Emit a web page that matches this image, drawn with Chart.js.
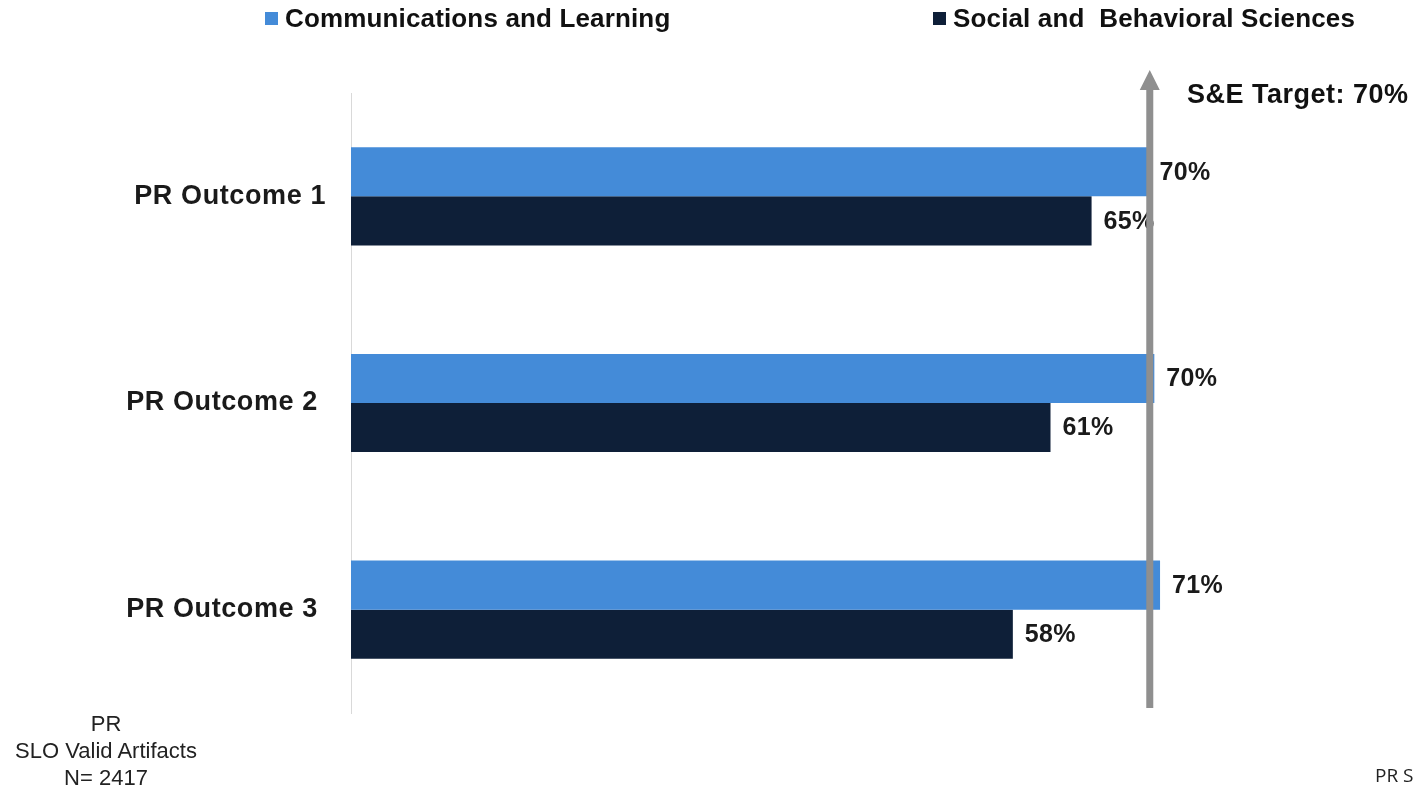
<!DOCTYPE html>
<html>
<head>
<meta charset="utf-8">
<script src="https://cdn.jsdelivr.net/npm/chart.js@4"></script>
<style>
  body { margin: 0; background: #fff; font-family: "Liberation Sans", Arial, sans-serif; }
  #wrap { position: relative; width: 1417px; height: 788px; }
  .leg { position: absolute; top: 3px; font-weight: bold; font-size: 26px; color: #111; white-space: pre; line-height: 30px; letter-spacing: 0.15px; }
  .leg span { display: inline-block; width: 13px; height: 13px; margin-right: 7px; vertical-align: 2px; }
  #note { position: absolute; left: 6px; top: 710px; width: 200px; text-align: center; font-size: 22px; line-height: 27px; color: #222; }
  #prs { position: absolute; left: 1375px; top: 762px; font-size: 19px; color: #222; font-family: "Open Sans", sans-serif; }
</style>
</head>
<body>
<div id="wrap">
  <canvas id="myChart"></canvas>
  <div class="leg" style="left:265px"><span style="background:#448BD8"></span>Communications and Learning</div>
  <div class="leg" style="left:933px"><span style="background:#0E1F38"></span>Social and  Behavioral Sciences</div>
  <div id="note">PR<br>SLO Valid Artifacts<br>N= 2417</div>
  <div id="prs">PR S</div>
</div>
<script>
const categories = ['PR Outcome 1', 'PR Outcome 2 ', 'PR Outcome 3 '];
const commLearning = [69.8, 70.4, 70.9];
const socialBehavioral = [64.9, 61.3, 58.0];
const targetValue = 70;
const targetLabel = 'S&E Target: 70%';

// a little extra spacing for the category labels
const labelSpacing = {
  id: 'labelSpacing',
  beforeDraw(chart) {
    chart.ctx.letterSpacing = '0.6px';
  }
};

// value labels at bar ends
const valueLabels = {
  id: 'valueLabels',
  afterDatasetsDraw(chart) {
    const ctx = chart.ctx;
    ctx.save();
    ctx.letterSpacing = '0.3px';
    ctx.font = 'bold 25px "Liberation Sans", Arial, sans-serif';
    ctx.fillStyle = '#1a1a1a';
    ctx.textAlign = 'left';
    ctx.textBaseline = 'middle';
    chart.data.datasets.forEach((ds, i) => {
      chart.getDatasetMeta(i).data.forEach((bar, j) => {
        ctx.fillText(Math.round(ds.data[j]) + '%', bar.x + 12, bar.y + 1);
      });
    });
    ctx.restore();
  }
};

// target arrow
const targetArrow = {
  id: 'targetArrow',
  afterDraw(chart) {
    const ctx = chart.ctx;
    const x = chart.scales.x.getPixelForValue(targetValue);
    ctx.save();
    ctx.fillStyle = '#8f8f8f';
    ctx.fillRect(x - 3.5, 88, 7, 620);
    ctx.beginPath();
    ctx.moveTo(x, 70);
    ctx.lineTo(x + 10, 90);
    ctx.lineTo(x - 10, 90);
    ctx.closePath();
    ctx.fill();
    ctx.letterSpacing = '0.5px';
    ctx.font = 'bold 27px "Liberation Sans", Arial, sans-serif';
    ctx.fillStyle = '#111';
    ctx.textBaseline = 'middle';
    ctx.fillText(targetLabel, 1187, 96);
    ctx.restore();
  }
};

new Chart(document.getElementById('myChart'), {
  type: 'bar',
  data: {
    labels: categories,
    datasets: [{
      label: 'Communications and Learning',
      data: commLearning,
      backgroundColor: '#448BD8',
      barPercentage: 1,
      categoryPercentage: 0.475
    }, {
      label: 'Social and  Behavioral Sciences',
      data: socialBehavioral,
      backgroundColor: '#0E1F38',
      barPercentage: 1,
      categoryPercentage: 0.475
    }]
  },
  options: {
    indexAxis: 'y',
    responsive: true,
    maintainAspectRatio: false,
    animation: false,
    layout: { padding: { top: 93, bottom: 75, left: 0, right: 39 } },
    plugins: { legend: { display: false }, tooltip: { enabled: false } },
    scales: {
      x: { display: false, min: 0, max: 90 },
      y: {
        grid: { display: false, drawTicks: false },
        border: { display: true, color: '#d9d9d9', width: 1 },
        ticks: {
          padding: 25,
          color: '#1a1a1a',
          font: { family: '"Liberation Sans", Arial, sans-serif', size: 27, weight: 'bold' }
        },
        afterFit(scale) { scale.width = 351; }
      }
    }
  },
  plugins: [labelSpacing, valueLabels, targetArrow]
});
</script>
</body>
</html>
